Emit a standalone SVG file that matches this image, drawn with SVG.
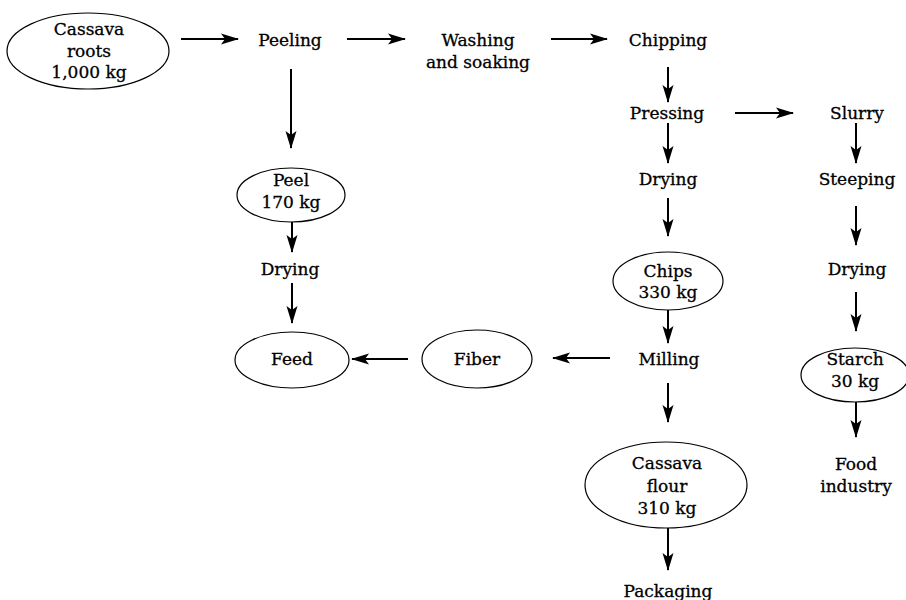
<svg xmlns="http://www.w3.org/2000/svg" width="906" height="600" viewBox="0 0 906 600">
<style>
text{font-family:"DejaVu Serif","Liberation Serif",serif;font-size:17px;fill:#000;stroke:#000;stroke-width:0.3;text-anchor:middle}
ellipse{fill:#fff;stroke:#000;stroke-width:1.2}
#connectors line{stroke:#000;stroke-width:2;marker-end:url(#ah)}
</style>
<defs>
<marker id="ah" markerUnits="userSpaceOnUse" markerWidth="18" markerHeight="12" refX="17" refY="6" orient="auto" viewBox="0 0 18 12">
<path d="M0,0.5 L18,6 L0,11.5 L4,6 z" fill="#000"/>
</marker>
</defs>
<rect width="906" height="600" fill="#fff"/>
<g id="connectors">
<line x1="181" y1="39" x2="238" y2="39"/>
<line x1="347" y1="39" x2="405" y2="39"/>
<line x1="551" y1="39" x2="607" y2="39"/>
<line x1="291" y1="69" x2="291" y2="148"/>
<line x1="668" y1="67" x2="668" y2="102"/>
<line x1="735" y1="113" x2="793" y2="113"/>
<line x1="668" y1="123" x2="668" y2="163"/>
<line x1="856" y1="123" x2="856" y2="163"/>
<line x1="668" y1="198" x2="668" y2="236"/>
<line x1="856" y1="206" x2="856" y2="245"/>
<line x1="668" y1="310" x2="668" y2="343"/>
<line x1="856" y1="292" x2="856" y2="331"/>
<line x1="668" y1="383" x2="668" y2="422"/>
<line x1="610" y1="358" x2="553" y2="358"/>
<line x1="408" y1="359" x2="352" y2="359"/>
<line x1="292" y1="222" x2="292" y2="252"/>
<line x1="292" y1="283" x2="292" y2="323"/>
<line x1="856" y1="402" x2="856" y2="437"/>
<line x1="668" y1="528" x2="668" y2="570"/>
</g>
<g id="cassava-roots"><ellipse cx="88" cy="51" rx="81" ry="38"/><text x="89" y="35">Cassava</text><text x="89" y="57">roots</text><text x="89" y="78">1,000 kg</text></g>
<g id="peeling"><text x="290" y="46">Peeling</text></g>
<g id="washing"><text x="478" y="46">Washing</text><text x="478" y="68">and soaking</text></g>
<g id="chipping"><text x="668" y="46">Chipping</text></g>
<g id="pressing"><text x="667" y="119">Pressing</text></g>
<g id="slurry"><text x="857" y="119">Slurry</text></g>
<g id="drying-mid"><text x="668" y="185">Drying</text></g>
<g id="steeping"><text x="857" y="185">Steeping</text></g>
<g id="peel"><ellipse cx="291" cy="195" rx="54" ry="27"/><text x="291" y="186">Peel</text><text x="291" y="208">170 kg</text></g>
<g id="drying-left"><text x="290" y="275">Drying</text></g>
<g id="chips"><ellipse cx="668" cy="281" rx="55" ry="29"/><text x="668" y="277">Chips</text><text x="668" y="298">330 kg</text></g>
<g id="drying-right"><text x="857" y="275">Drying</text></g>
<g id="feed"><ellipse cx="292" cy="360" rx="57" ry="28"/><text x="292" y="365">Feed</text></g>
<g id="fiber"><ellipse cx="477" cy="359" rx="55" ry="29"/><text x="477" y="365">Fiber</text></g>
<g id="milling"><text x="669" y="365">Milling</text></g>
<g id="starch"><ellipse cx="855" cy="375" rx="54" ry="27"/><text x="855" y="365">Starch</text><text x="855" y="387">30 kg</text></g>
<g id="cassava-flour"><ellipse cx="666" cy="485" rx="81" ry="43"/><text x="667" y="469">Cassava</text><text x="667" y="492">flour</text><text x="667" y="514">310 kg</text></g>
<g id="food-industry"><text x="856" y="470">Food</text><text x="856" y="492">industry</text></g>
<g id="packaging"><text x="668" y="597">Packaging</text></g>
</svg>
